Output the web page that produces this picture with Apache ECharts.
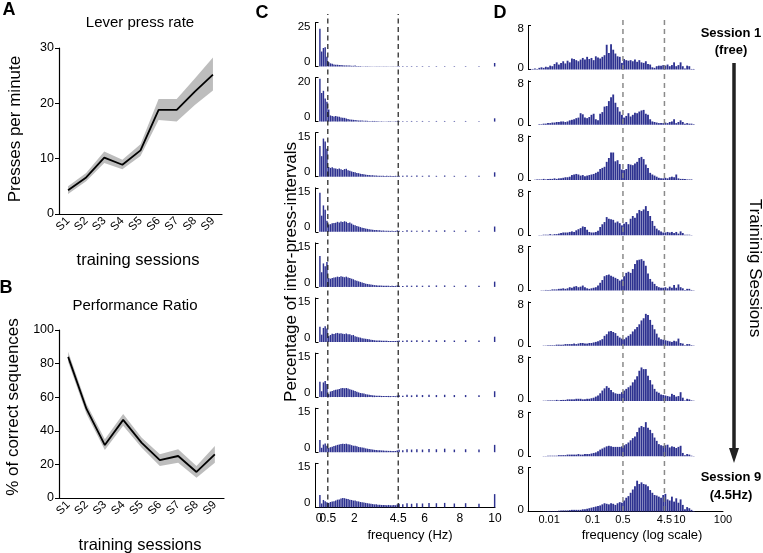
<!DOCTYPE html>
<html><head><meta charset="utf-8">
<script src="https://cdn.jsdelivr.net/npm/echarts@6/dist/echarts.min.js"></script>
<style>html,body{margin:0;padding:0;background:#fff;}#chart{width:763px;height:553px;}</style>
</head><body><div id="chart"></div>
<script>
// ---------- DATA ----------
const sessions = ['S1','S2','S3','S4','S5','S6','S7','S8','S9'];
const leverMean = [4.3, 6.6, 10.2, 8.9, 11.5, 18.8, 18.8, 22.1, 25.2];
const leverLow  = [3.6, 5.9, 9.2, 8.1, 10.5, 17.0, 16.7, 19.7, 22.3];
const leverHigh = [5.0, 7.4, 11.3, 9.8, 12.6, 20.8, 20.8, 24.5, 28.3];
const ratioMean = [84, 53, 31.5, 46.5, 33, 22.5, 25, 15.5, 26];
const ratioLow  = [81, 50, 28.5, 43, 30, 19, 21, 12, 21];
const ratioHigh = [87, 56, 35, 50, 36, 26, 29, 19, 31];

// Panel C: linear frequency histograms (0.1 Hz bins from 0 to 4.5 Hz, then sparse bins)
const cRowMax = [25, 20, 15, 15, 15, 15, 15, 15, 15];
const cBinHz = 0.1;
const cHead1 = [21.5,8.5,10.5,11,5.5,2.5,1.8,1.5,1.2,1.0, 1.0,0.8,0.8,0.7,0.6,0.6,0.5,0.5,0.4,0.4, 0.5,0.3,0.3,0.3,0.2,0.2,0.2,0.2,0.15,0.15, 0.1,0.1,0.1,0.1,0.1,0.1,0.1,0.1,0.1,0.1, 0.1,0.1,0.1,0.1,0.2];
const cHead2 = [19.5,13,14,10.5,9,5.5,2.8,2.5,2.3,2.5, 2.3,2.2,1.9,1.8,1.7,1.4,1.2,1.0,0.9,0.8, 0.7,0.6,0.5,0.5,0.45,0.4,0.4,0.35,0.3,0.3, 0.3,0.3,0.25,0.25,0.2,0.2,0.2,0.2,0.2,0.2, 0.2,0.2,0.2,0.2,0.3];
const cHead3 = [10.5,7,13,12,9.5,3.3,3.0,3.2,2.9,2.8, 2.6,2.8,2.5,2.3,2.6,2.7,2.2,2.0,1.8,1.6, 1.5,1.3,1.2,1.0,0.9,0.8,0.7,0.6,0.6,0.5, 0.5,0.4,0.4,0.35,0.3,0.3,0.3,0.25,0.3,0.25, 0.3,0.2,0.2,0.3,0.2];
const cHead4 = [13.3,5.5,9,7.5,3.8,2.5,2.6,2.9,3.0,3.1, 3.4,3.2,3.5,3.3,3.6,3.4,3.0,3.2,2.8,2.4, 2.2,2.0,1.8,1.6,1.4,1.3,1.1,1.0,0.9,0.8, 0.7,0.6,0.6,0.5,0.5,0.4,0.45,0.4,0.4,0.35, 0.3,0.35,0.3,0.3,0.5];
const cHead5 = [10.5,5,8,7,8.5,3.0,2.8,3.0,3.2,3.3, 3.5,3.4,3.6,3.5,3.3,3.5,3.2,3.0,2.8,2.6, 2.3,2.1,1.9,1.7,1.5,1.3,1.1,1.0,0.9,0.8, 0.7,0.6,0.55,0.5,0.5,0.45,0.4,0.4,0.35,0.4, 0.3,0.35,0.3,0.35,0.5];
const cHead6 = [5.2,2.5,4.8,5.4,4.6,2.0,2.4,2.8,2.7,3.0, 3.1,2.9,3.0,2.8,2.7,2.9,2.6,2.6,2.3,2.4, 2.0,1.8,1.6,1.5,1.3,1.2,1.1,1.0,0.9,0.8, 0.7,0.6,0.55,0.5,0.5,0.45,0.4,0.4,0.4,0.35, 0.35,0.3,0.3,0.35,0.4];
const cHead7 = [5.2,2.0,5.0,5.5,4.5,1.0,1.9,2.1,2.3,2.5, 2.6,2.8,3.0,3.1,3.0,3.1,2.9,2.7,2.5,2.3, 2.1,1.8,1.6,1.4,1.3,1.2,1.0,0.9,0.8,0.7, 0.6,0.55,0.5,0.45,0.45,0.4,0.4,0.4,0.35,0.4, 0.35,0.3,0.4,0.3,0.5];
const cHead8 = [4.2,1.5,2.6,3.0,2.2,1.4,1.7,1.9,2.1,2.3, 2.5,2.6,2.8,2.9,2.8,2.9,2.7,2.6,2.4,2.2, 2.2,2.0,1.8,1.7,1.6,1.5,1.3,1.2,1.1,1.0, 0.9,0.8,0.75,0.7,0.65,0.6,0.55,0.5,0.5,0.45, 0.45,0.4,0.45,0.4,0.6];
const cHead9 = [4.2,1.3,2.5,2.1,1.7,1.5,1.8,2.0,2.1,2.3, 2.6,2.7,3.0,3.2,3.1,2.9,2.8,2.6,2.5,2.3, 2.3,2.1,2.0,1.8,1.7,1.6,1.5,1.4,1.3,1.2, 1.1,1.0,1.0,0.9,0.9,0.8,0.8,0.8,0.7,0.8, 0.7,0.7,0.8,0.7,1.0];
const cTailFreq = [4.55, 4.76, 5.0, 5.26, 5.56, 5.88, 6.25, 6.67, 7.14, 7.69, 8.33, 9.09, 9.98];
const cTail1 = [0.3,0.3,0.3,0.3,0.3,0.3,0.3,0.3,0.3,0.3,0.3,0.3,2.0];
const cTail2 = [0.3,0.3,0.3,0.3,0.3,0.3,0.3,0.3,0.3,0.3,0.3,0.3,1.5];
const cTail3 = [0.3,0.3,0.4,0.3,0.4,0.3,0.4,0.3,0.4,0.3,0.3,0.3,1.5];
const cTail4 = [0.4,0.3,0.5,0.4,0.4,0.4,0.5,0.4,0.5,0.4,0.4,0.4,1.8];
const cTail5 = [0.4,0.3,0.5,0.4,0.5,0.4,0.5,0.5,0.5,0.4,0.5,0.4,1.8];
const cTail6 = [0.5,0.4,0.6,0.5,0.6,0.5,0.6,0.6,0.6,0.5,0.6,0.5,1.8];
const cTail7 = [0.6,0.5,0.8,0.6,0.8,0.7,0.8,0.7,0.8,0.7,0.7,0.6,2.0];
const cTail8 = [0.8,0.7,1.0,0.9,1.0,0.9,1.1,1.0,1.2,0.9,1.0,0.9,2.5];
const cTail9 = [1.2,1.0,1.4,1.2,1.4,1.3,1.5,1.4,1.5,1.3,1.4,1.2,4.5];
const cTickValues = [0, 2, 4.5, 6, 8, 10];
const cTickValuesExtra = [0.5];

// Panel D: log-frequency histograms (bins of 0.05 decade starting at 10^-2.45 Hz)
const dRowMax = [8, 8, 8, 8, 8, 8, 8, 8, 8];
const dLogStart = -2.45;
const dLogStep = 0.05;
const dRow1 = [0.1,0.1,0.2,0.1,0.3,0.4,0.3,0.5,0.4,0.7, 0.6,1.0,1.3,0.9,1.2,1.5,1.1,1.6,1.3,2.0, 1.9,1.7,1.5,1.8,2.1,1.8,2.3,1.9,2.1,1.7, 2.4,2.2,2.0,2.3,2.6,4.5,3.0,4.6,3.6,2.9, 2.4,2.3,1.2,1.9,1.7,1.6,1.7,1.5,1.8,1.4, 1.7,1.3,1.2,1.5,1.0,0.9,0.4,0.3,0.6,0.7, 0.7,0.8,0.7,0.9,0.6,0.8,1.3,0.6,0.8,1.3, 0.6,0.2,0.7,0.6,0.1,0.1,0];
const dRow2 = [0,0,0,0,0.1,0.1,0.2,0.2,0.3,0.3, 0.4,0.4,0.5,0.5,0.6,0.6,0.5,0.6,0.8,0.9, 1.0,1.2,1.3,2.1,1.9,1.3,1.2,1.4,1.8,2.0, 1.0,0.8,2.0,2.3,3.3,3.4,4.3,5.0,5.5,4.0, 3.2,2.4,1.8,1.3,1.6,2.1,1.5,1.8,2.2,2.1, 2.4,2.6,2.7,2.0,1.8,1.0,0.6,0.5,0.4,0.3, 0.3,0.3,0.4,0.3,0.5,0.6,1.0,0.3,0.5,0.8, 0.5,0.2,0.3,0.2,0.2,0.1,0];
const dRow3 = [0,0,0.05,0.1,0.1,0.1,0.2,0.1,0.2,0.2, 0.2,0.3,0.2,0.3,0.3,0.4,0.5,0.5,0.6,0.9, 1.0,1.1,1.0,0.8,0.9,0.7,0.8,0.9,1.0,1.1, 1.3,1.5,2.0,2.2,2.4,3.3,4.0,5.0,5.0,3.4, 3.6,2.9,1.9,1.8,2.0,2.9,2.8,2.7,3.0,3.3, 4.0,4.2,3.8,2.8,2.2,1.3,1.0,0.8,0.6,0.4, 0.3,0.3,0.4,0.3,0.5,0.6,0.5,1.0,0.3,0.2, 0.2,0.2,0.1,0.1,0.1,0,0];
const dRow4 = [0,0,0,0,0.05,0.05,0.1,0.1,0.1,0.2, 0.1,0.2,0.2,0.3,0.4,0.5,0.5,0.5,0.6,0.7, 0.6,0.9,1.1,1.3,1.6,1.5,1.0,0.6,0.5,0.5, 0.6,0.8,1.5,2.0,2.4,3.3,3.0,2.9,2.8,2.3, 2.5,2.2,1.8,2.1,2.4,2.0,3.0,3.5,3.2,4.0, 4.6,4.4,4.7,5.3,4.4,3.5,2.6,1.7,1.2,0.9, 0.7,0.5,0.5,0.6,0.5,0.6,0.4,0.6,0.3,0.7, 0.4,0.1,0.1,0.1,0.05,0,0];
const dRow5 = [0,0,0,0,0,0.05,0.05,0.1,0.1,0.1, 0.2,0.2,0.2,0.3,0.3,0.4,0.3,0.4,0.6,0.5, 0.7,0.8,0.6,0.7,0.9,0.6,0.4,0.3,0.4,0.5, 0.6,0.9,1.4,1.9,2.6,2.8,2.9,2.7,2.5,2.3, 2.1,1.8,2.0,2.6,3.2,3.4,3.2,3.9,4.8,5.5, 5.6,5.7,5.4,4.5,3.1,2.1,1.6,1.2,0.8,0.6, 0.5,0.5,0.6,0.4,0.7,0.5,1.0,0.5,1.1,0.6, 0.4,0.1,0.3,0.3,0.1,0.05,0];
const dRow6 = [0,0,0,0,0,0,0.05,0.05,0.1,0.1, 0.1,0.1,0.2,0.2,0.2,0.2,0.3,0.3,0.3,0.3, 0.4,0.3,0.4,0.5,0.5,0.4,0.4,0.5,0.5,0.6, 0.7,0.8,1.0,1.2,1.8,2.1,2.6,2.7,2.5,2.3, 1.8,1.5,1.3,1.2,1.5,1.8,2.1,2.6,3.0,3.4, 3.9,4.6,5.0,5.8,5.6,4.7,3.8,3.0,2.2,1.5, 1.2,1.1,1.0,0.9,0.8,0.7,0.9,0.8,1.3,0.5, 0.4,0.1,0.3,0.3,0.1,0.05,0];
const dRow7 = [0,0,0,0,0,0,0.05,0.05,0.1,0.1, 0.1,0.1,0.2,0.1,0.2,0.2,0.2,0.3,0.3,0.3, 0.3,0.4,0.4,0.4,0.3,0.3,0.4,0.4,0.5,0.6, 0.8,1.0,1.4,1.9,2.3,2.7,2.4,2.0,1.6,1.4, 1.3,1.3,1.6,1.9,2.2,2.5,2.8,3.4,3.9,4.5, 5.5,6.1,5.8,5.8,4.6,3.8,3.0,2.2,1.7,1.5, 1.2,1.1,1.0,0.9,0.8,1.3,1.1,0.8,0.9,1.6, 0.6,0.1,0.4,0.3,0.1,0.05,0];
const dRow8 = [0,0,0,0,0,0,0.05,0.05,0.1,0.1, 0.1,0.1,0.1,0.2,0.2,0.2,0.2,0.3,0.3,0.3, 0.3,0.3,0.4,0.3,0.3,0.4,0.4,0.4,0.5,0.6, 0.7,0.9,1.2,1.4,1.6,1.8,1.9,1.8,1.7,1.7, 1.7,1.7,1.8,2.0,2.2,2.5,2.9,3.3,3.6,4.4, 5.2,5.5,5.3,6.2,5.2,4.8,4.2,3.4,2.8,2.2, 2.0,1.9,2.0,2.1,1.6,1.8,1.7,1.5,1.7,1.9, 0.6,0.2,0.4,0.3,0.1,0.05,0];
const dRow9 = [0,0,0,0,0,0,0.05,0.05,0.1,0.1, 0.1,0.1,0.1,0.15,0.2,0.2,0.2,0.2,0.25,0.3, 0.3,0.3,0.3,0.3,0.4,0.4,0.5,0.6,0.7,0.8, 0.9,1.0,1.1,1.3,1.5,1.4,1.3,1.5,1.4,1.2, 1.5,1.7,1.6,2.0,2.5,2.8,3.4,4.0,4.6,5.6, 5.0,5.3,5.0,4.9,4.6,3.9,3.4,3.0,2.9,2.7, 2.5,3.0,3.2,2.2,2.0,2.7,1.8,2.4,1.6,2.2, 1.2,0.4,0.8,0.6,0.3,0.1,0];
const dTickFreq = [0.01, 0.1, 0.5, 4.5, 10, 100];
const dTickLabels = ['0.01', '0.1', '0.5', '4.5', '10', '100'];
const markerFreqs = [0.5, 4.5];

// ---------- BUILD ----------
const FONT = '"Liberation Sans", Arial, Helvetica, sans-serif';
const BAR = '#2d3190';
const grids = [], xAxes = [], yAxes = [], series = [];
function addGrid(g) { grids.push(g); return grids.length - 1; }

function linePanel(box, yMax, yInt, low, high, mean) {
  const g = addGrid(box);
  xAxes.push({gridIndex: g, type: 'category', data: sessions, boundaryGap: true,
    axisLine: {lineStyle: {color: '#000', width: 1.2}},
    axisTick: {alignWithLabel: true, interval: 0, length: 4, lineStyle: {color: '#000'}},
    axisLabel: {interval: 0, rotate: 45, fontSize: 11.5, color: '#000', margin: 5, fontFamily: FONT}});
  yAxes.push({gridIndex: g, type: 'value', min: 0, max: yMax, interval: yInt,
    splitLine: {show: false},
    axisLine: {show: true, lineStyle: {color: '#000', width: 1.2}},
    axisTick: {show: true, length: 4, lineStyle: {color: '#000'}},
    axisLabel: {fontSize: 12.5, color: '#000', margin: 5, fontFamily: FONT}});
  const st = 'band' + g;
  series.push({type: 'line', xAxisIndex: g, yAxisIndex: g, data: low, stack: st, symbol: 'none', silent: true, lineStyle: {opacity: 0}});
  series.push({type: 'line', xAxisIndex: g, yAxisIndex: g, data: high.map((h, i) => +(h - low[i]).toFixed(2)), stack: st, symbol: 'none', silent: true, lineStyle: {opacity: 0}, areaStyle: {color: '#bdbdbd', opacity: 1}});
  series.push({type: 'line', xAxisIndex: g, yAxisIndex: g, data: mean, symbol: 'none', silent: true, z: 5, lineStyle: {color: '#000', width: 1.8}});
}
linePanel({left: 59, top: 48, width: 163, height: 166}, 30, 10, leverLow, leverHigh, leverMean);
linePanel({left: 59, top: 330, width: 165, height: 168}, 100, 20, ratioLow, ratioHigh, ratioMean);

function rowYAxis(g, max, loPad, hiPad, fs, margin) {
  return {gridIndex: g, type: 'value', min: 0, max: max, interval: max,
    splitLine: {show: false},
    axisLine: {show: true, onZero: false, lineStyle: {color: '#000', width: 1}},
    axisTick: {show: true, inside: true, length: 3, lineStyle: {color: '#000', width: 1}},
    axisLabel: {fontSize: fs, color: '#000', margin: margin, fontFamily: FONT,
      formatter: v => v === 0 ? '{lo|0}' : '{hi|' + v + '}',
      rich: {lo: {padding: [0, 0, loPad, 0], fontSize: fs, fontFamily: FONT, color: '#000'},
             hi: {padding: [hiPad, 0, 0, 0], fontSize: fs, fontFamily: FONT, color: '#000'}}}};
}

// Panel C rows
const cHeads = [cHead1, cHead2, cHead3, cHead4, cHead5, cHead6, cHead7, cHead8, cHead9];
const cTails = [cTail1, cTail2, cTail3, cTail4, cTail5, cTail6, cTail7, cTail8, cTail9];
const C_LEFT = 315.5, C_W = 179.5, C_MIN = -0.2, C_MAX = 10;
let cLastGrid = -1;
for (let r = 0; r < 9; r++) {
  const base = 66.5 + 55.1 * r;
  const g = addGrid({left: C_LEFT, top: base - 44, width: C_W, height: 44});
  const last = r === 8;
  if (last) cLastGrid = g;
  xAxes.push(last ? {gridIndex: g, type: 'value', position: 'bottom', min: C_MIN, max: C_MAX,
      splitLine: {show: false}, axisTick: {show: false},
      axisLine: {show: true, onZero: false, lineStyle: {color: '#000', width: 1}},
      axisLabel: {customValues: cTickValues, showMinLabel: true, showMaxLabel: true, hideOverlap: false,
        fontSize: 12, color: '#000', margin: 5, fontFamily: FONT, formatter: v => String(v)}}
    : {gridIndex: g, type: 'value', min: C_MIN, max: C_MAX, show: false});
  yAxes.push(rowYAxis(g, cRowMax[r], 9, 8, 11.5, 5));
  const data = cHeads[r].map((v, i) => [+(cBinHz * (i + 0.5)).toFixed(3), v])
    .concat(cTails[r].map((v, i) => [cTailFreq[i], v]));
  series.push({type: 'bar', xAxisIndex: g, yAxisIndex: g, data: data, barWidth: 1.45, silent: true, itemStyle: {color: BAR}});
}
// C dashed markers
{
  const g = addGrid({left: C_LEFT, top: 14, width: C_W, height: 494});
  xAxes.push({gridIndex: g, type: 'value', min: C_MIN, max: C_MAX, show: false});
  yAxes.push({gridIndex: g, type: 'value', min: 0, max: 1, show: false});
  markerFreqs.forEach(f => series.push({type: 'line', xAxisIndex: g, yAxisIndex: g, data: [[f, 0], [f, 1]], symbol: 'none', silent: true, z: 10,
    lineStyle: {color: '#1a1a1a', width: 1.2, type: [5, 3.5]}}));
}

// Panel D rows
const dRows = [dRow1, dRow2, dRow3, dRow4, dRow5, dRow6, dRow7, dRow8, dRow9];
const D_LEFT = 528, D_W = 195, D_MIN = -2.485, D_MAX = 2;
const dTickLog = dTickFreq.map(f => Math.log10(f));
for (let r = 0; r < 9; r++) {
  const base = 69.5 + 55.25 * r;
  const g = addGrid({left: D_LEFT, top: base - 44, width: D_W, height: 44});
  const last = r === 8;
  xAxes.push(last ? {gridIndex: g, type: 'value', min: D_MIN, max: D_MAX,
      splitLine: {show: false}, axisTick: {show: false},
      axisLine: {show: true, onZero: false, lineStyle: {color: '#000', width: 1}},
      axisLabel: {customValues: dTickLog, showMinLabel: true, showMaxLabel: true, hideOverlap: false,
        fontSize: 11, color: '#000', margin: 3, fontFamily: FONT,
        formatter: v => { const k = dTickLog.findIndex(t => Math.abs(t - v) < 1e-6); return k >= 0 ? dTickLabels[k] : ''; }}}
    : {gridIndex: g, type: 'value', min: D_MIN, max: D_MAX, show: false});
  yAxes.push(rowYAxis(g, dRowMax[r], 4, 6, 11.5, 4));
  const data = dRows[r].map((v, i) => [+(dLogStart + dLogStep * (i + 0.5)).toFixed(4), v]);
  series.push({type: 'bar', xAxisIndex: g, yAxisIndex: g, data: data, barWidth: 1.85, silent: true, itemStyle: {color: BAR}});
}
{
  const g = addGrid({left: D_LEFT, top: 17, width: D_W, height: 494});
  xAxes.push({gridIndex: g, type: 'value', min: D_MIN, max: D_MAX, show: false});
  yAxes.push({gridIndex: g, type: 'value', min: 0, max: 1, show: false});
  markerFreqs.forEach(f => series.push({type: 'line', xAxisIndex: g, yAxisIndex: g, data: [[Math.log10(f), 0], [Math.log10(f), 1]], symbol: 'none', silent: true, z: 10,
    lineStyle: {color: '#8a8a8a', width: 1.5, type: [5, 4]}}));
}
// extra label-only axis for the crowded "0.5" tick of panel C (appended last so indices stay aligned)
xAxes.push({gridIndex: cLastGrid, type: 'value', position: 'bottom', min: C_MIN, max: C_MAX,
  splitLine: {show: false}, axisTick: {show: false}, axisLine: {show: false, onZero: false},
  axisLabel: {customValues: cTickValuesExtra, hideOverlap: false, fontSize: 12, color: '#000', margin: 5, fontFamily: FONT, formatter: v => String(v)}});

function txt(x, y, text, size, opts) {
  opts = opts || {};
  return {type: 'text', x: x, y: y, rotation: opts.rot || 0, silent: true, z: 20,
    style: {text: text, fontSize: size, fontFamily: FONT, fontWeight: opts.bold ? 'bold' : 'normal', fill: '#000',
      textAlign: 'center', align: 'center', textVerticalAlign: 'middle', verticalAlign: 'middle'}};
}
const graphic = [
  txt(9, 10, 'A', 18, {bold: true}),
  txt(6, 288, 'B', 18, {bold: true}),
  txt(262, 13, 'C', 18, {bold: true}),
  txt(500, 13, 'D', 18, {bold: true}),
  txt(140, 23, 'Lever press rate', 15),
  txt(15, 129, 'Presses per minute', 17, {rot: Math.PI / 2}),
  txt(138, 260, 'training sessions', 16.5),
  txt(135, 306, 'Performance Ratio', 15),
  txt(13, 407, '% of correct sequences', 17, {rot: Math.PI / 2}),
  txt(140, 545, 'training sessions', 16.5),
  txt(291, 272, 'Percentage of inter-press-intervals', 17, {rot: Math.PI / 2}),
  txt(410, 535, 'frequency (Hz)', 13),
  txt(642, 535, 'frequency (log scale)', 13),
  txt(731, 33, 'Session 1', 13, {bold: true}),
  txt(731, 50, '(free)', 13, {bold: true}),
  txt(731, 477, 'Session 9', 13, {bold: true}),
  txt(731, 495, '(4.5Hz)', 13, {bold: true}),
  txt(755, 268, 'Traininig Sessions', 17, {rot: -Math.PI / 2}),
  {type: 'line', silent: true, z: 20, shape: {x1: 734, y1: 63, x2: 734, y2: 450}, style: {stroke: '#222', lineWidth: 3.5}},
  {type: 'polygon', silent: true, z: 20, shape: {points: [[729, 448], [739, 448], [734, 463]]}, style: {fill: '#222'}}
];

const chart = echarts.init(document.getElementById('chart'), null, {renderer: 'canvas'});
chart.setOption({
  animation: false,
  backgroundColor: '#fff',
  textStyle: {fontFamily: FONT},
  grid: grids.map(g => Object.assign({containLabel: false}, g)),
  xAxis: xAxes,
  yAxis: yAxes,
  series: series,
  graphic: graphic
});
</script></body></html>
